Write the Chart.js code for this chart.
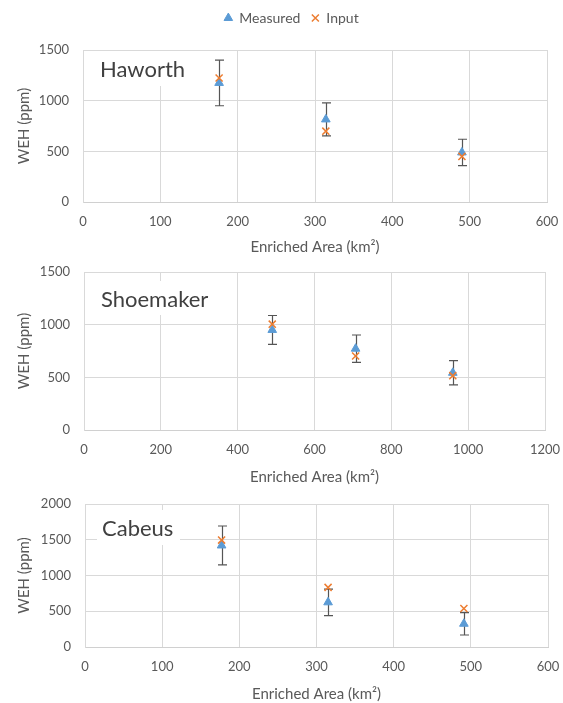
<!DOCTYPE html>
<html>
<head>
<meta charset="utf-8">
<script src="https://cdn.jsdelivr.net/npm/chart.js@4.4.1/dist/chart.umd.min.js"></script>
<style>
  body { margin: 0; background: #fff; }
  .panel { position: absolute; left: 0; width: 563px; }
</style>
</head>
<body>
<div class="panel" style="top:0;height:256px"><canvas id="haworth"></canvas></div>
<div class="panel" style="top:256px;height:230px"><canvas id="shoemaker"></canvas></div>
<div class="panel" style="top:486px;height:217px"><canvas id="cabeus"></canvas></div>
<script>
// values
const haworthArea = [176, 314, 490];
const haworthMeasured = [1175, 815, 489];
const haworthError = [225, 163, 130];
const haworthInput = [1224, 699, 450];

const shoemakerArea = [490, 707, 960];
const shoemakerMeasured = [950, 772, 543];
const shoemakerError = [137, 130, 115];
const shoemakerInput = [1005, 703, 516];

const cabeusArea = [177, 315, 491];
const cabeusMeasured = [1420, 625, 325];
const cabeusError = [272, 185, 157];
const cabeusInput = [1495, 833, 538];

const seriesNames = ['Measured', 'Input'];
const xTitle = 'Enriched Area (km²)';
const yTitle = 'WEH (ppm)';

Chart.defaults.font.family = 'Lato';
Chart.defaults.color = '#595959';

const toPoints = (xs, ys) => xs.map((x, i) => ({x: x, y: ys[i]}));

// error bars on the measured series, drawn under the markers
const errorBars = {
  id: 'errorBars',
  beforeDatasetsDraw(chart, args, opts) {
    const {ctx, scales: {x, y}} = chart;
    const pts = chart.data.datasets[0].data;
    ctx.save();
    ctx.strokeStyle = '#555';
    ctx.lineWidth = 1.2;
    pts.forEach((p, i) => {
      const px = Math.round(x.getPixelForValue(p.x)) + 0.5;
      const top = y.getPixelForValue(p.y + opts.errors[i]);
      const bot = y.getPixelForValue(p.y - opts.errors[i]);
      ctx.beginPath();
      ctx.moveTo(px, top); ctx.lineTo(px, bot);
      ctx.moveTo(px - 4.5, top); ctx.lineTo(px + 4.5, top);
      ctx.moveTo(px - 4.5, bot); ctx.lineTo(px + 4.5, bot);
      ctx.stroke();
    });
    ctx.restore();
  }
};

// crater name in a white box, top left of the plot
const siteLabel = {
  id: 'siteLabel',
  beforeDatasetsDraw(chart, args, opts) {
    const {ctx, chartArea: a} = chart;
    ctx.save();
    ctx.fillStyle = '#fff';
    ctx.fillRect(a.left + opts.bx, a.top + opts.by, opts.bw, opts.bh);
    ctx.fillStyle = '#404040';
    ctx.font = '22px Lato';
    ctx.textBaseline = 'alphabetic';
    ctx.fillText(opts.text, a.left + opts.tx, a.top + opts.ty);
    ctx.restore();
  }
};

// room between legend and plot, and legend nudged right like the original
const legendGap = {
  id: 'legendGap',
  afterInit(chart) {
    if (!chart.legend) return;
    const fit = chart.legend.fit;
    chart.legend.fit = function () {
      fit.call(this);
      if (this.options.display) this.height += 15;
    };
  },
  afterLayout(chart, args, opts) {
    if (chart.legend && opts.shift) {
      chart.legend.left += opts.shift;
      chart.legend.right += opts.shift;
    }
  }
};

function makeChart(id, area, measured, input, errors, cfg) {
  return new Chart(document.getElementById(id), {
    type: 'scatter',
    data: {
      datasets: [{
        label: seriesNames[0],
        data: toPoints(area, measured),
        pointStyle: 'triangle',
        pointRadius: 5,
        pointHoverRadius: 5,
        backgroundColor: '#5B9BD5',
        borderColor: '#5B9BD5',
        borderWidth: 1,
        order: 1
      }, {
        label: seriesNames[1],
        data: toPoints(area, input),
        pointStyle: 'crossRot',
        pointRadius: 5,
        pointHoverRadius: 5,
        backgroundColor: '#ED7D31',
        borderColor: '#ED7D31',
        borderWidth: 1.5,
        order: 0
      }]
    },
    options: {
      responsive: true,
      maintainAspectRatio: false,
      animation: false,
      layout: {padding: {top: cfg.padTop, right: cfg.padRight, left: 0, bottom: 0}},
      scales: {
        x: {
          type: 'linear',
          min: 0, max: cfg.xMax,
          ticks: {stepSize: cfg.xStep, padding: 0, font: {size: 13}, callback: v => String(v)},
          grid: {color: '#d9d9d9', tickLength: 12, tickColor: 'rgba(0,0,0,0)'},
          border: {color: '#d0d0d0'},
          title: {display: true, text: xTitle, font: {size: 15}, padding: {top: cfg.xTitlePad, bottom: 0}},
          afterFit(s) { s.height = cfg.xHeight; }
        },
        y: {
          min: 0, max: cfg.yMax,
          ticks: {stepSize: 500, padding: 0, font: {size: 13}, callback: v => String(v)},
          grid: {color: '#d9d9d9', tickLength: 14, tickColor: 'rgba(0,0,0,0)'},
          border: {color: '#d9d9d9'},
          title: {display: true, text: yTitle, font: {size: 15}, padding: {top: 15, bottom: 0}},
          afterFit(s) { s.width = cfg.yWidth; }
        }
      },
      plugins: {
        legend: {
          display: cfg.legend,
          labels: {
            usePointStyle: true,
            boxWidth: 8,
            boxHeight: 7,
            padding: 11,
            font: {size: 14},
            sort: (a, b) => a.datasetIndex - b.datasetIndex
          }
        },
        tooltip: {enabled: false},
        errorBars: {errors: errors},
        siteLabel: cfg.label,
        legendGap: {shift: 18}
      }
    },
    plugins: [siteLabel, errorBars, legendGap]
  });
}

makeChart('haworth', haworthArea, haworthMeasured, haworthInput, haworthError, {
  legend: true, padTop: 0, padRight: 16, yWidth: 83, xHeight: 54, xTitlePad: 2,
  xMax: 600, xStep: 100, yMax: 1500,
  label: {text: 'Haworth', bx: 10, by: 1, bw: 98, bh: 35, tx: 17, ty: 27}
});

makeChart('shoemaker', shoemakerArea, shoemakerMeasured, shoemakerInput, shoemakerError, {
  legend: false, padTop: 16, padRight: 18, yWidth: 84, xHeight: 56, xTitlePad: 1,
  xMax: 1200, xStep: 200, yMax: 1500,
  label: {text: 'Shoemaker', bx: 10, by: 9, bw: 118, bh: 34, tx: 17, ty: 35}
});

makeChart('cabeus', cabeusArea, cabeusMeasured, cabeusInput, cabeusError, {
  legend: false, padTop: 18, padRight: 15, yWidth: 85, xHeight: 56, xTitlePad: 2,
  xMax: 600, xStep: 100, yMax: 2000,
  label: {text: 'Cabeus', bx: 12, by: 6, bw: 83, bh: 35, tx: 17, ty: 32}
});
</script>
</body>
</html>
